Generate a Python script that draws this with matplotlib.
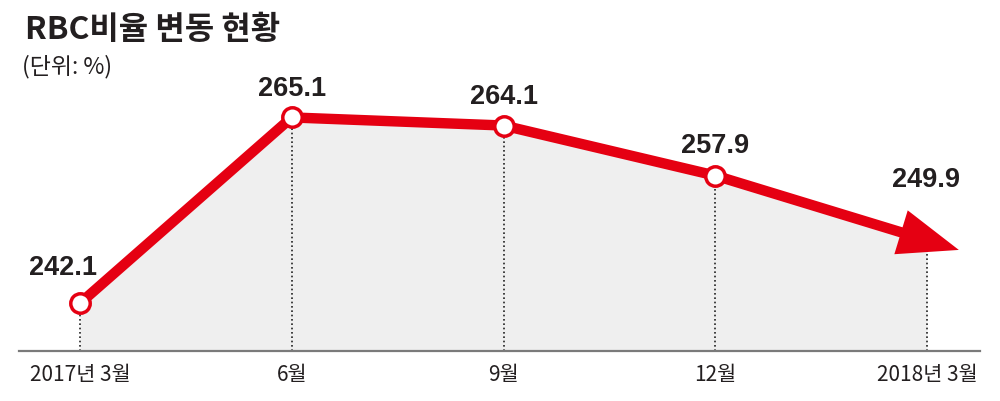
import matplotlib
matplotlib.use('Agg')
import matplotlib.pyplot as plt
import numpy as np

plt.rcParams['font.family'] = ['Noto Sans CJK KR', 'DejaVu Sans']

# data
periods = ['2017년 3월', '6월', '9월', '12월', '2018년 3월']
rbc = [242.1, 265.1, 264.1, 257.9, 249.9]
value_labels = ['242.1', '265.1', '264.1', '257.9', '249.9']

red = '#e50012'
x = np.arange(len(rbc))

fig = plt.figure(figsize=(10, 4.02), dpi=100)
ax = fig.add_axes([0.019, 0.1244, 0.961, 0.7263])
ax.set_xlim(-0.288, 4.25)
ax.set_ylim(236.19, 272.33)

# gray area under line
ax.fill_between(x, rbc, 236.19, color='#efefef', zorder=1, lw=0)

# dotted drop lines
for xi, v in zip(x, rbc):
    ax.plot([xi, xi], [236.19, v], ls=(0, (1, 1.6)), color='#222222', lw=1.2, zorder=2)

# main line (all but last segment)
ax.plot(x[:4], rbc[:4], color=red, lw=7.5, solid_capstyle='round', zorder=3)

# last segment ending as arrow
dy = rbc[4] - rbc[3]
tip = (x[4] + 0.15, rbc[4] + dy * 0.15)
ax.annotate('', xy=tip, xytext=(x[3], rbc[3]),
            arrowprops=dict(arrowstyle='simple,head_length=1.45,head_width=1.1,tail_width=0.25',
                            mutation_scale=30, color=red, lw=0, shrinkA=0, shrinkB=0),
            zorder=3, annotation_clip=False)

# markers
ax.plot(x[:4], rbc[:4], 'o', ms=14, mfc='white', mec=red, mew=2.5, zorder=4)

# value labels
offsets = [(-12, 26), (0, 21), (0, 21), (0, 22), (-1, 44)]
for xi, v, lab, off in zip(x, rbc, value_labels, offsets):
    ax.annotate(lab, (xi, v), xytext=off, textcoords='offset points',
                ha='center', va='center', fontsize=19.5, fontweight='bold',
                family=['Liberation Sans', 'DejaVu Sans'], color='#231f20', zorder=5)

# axes styling
for s in ['top', 'right', 'left']:
    ax.spines[s].set_visible(False)
ax.spines['bottom'].set_color('#7a7a7a')
ax.spines['bottom'].set_linewidth(1.6)
ax.set_yticks([])
ax.set_xticks(x)
ax.set_xticklabels(periods, fontsize=15, color='#231f20')
ax.tick_params(axis='x', length=0, pad=9)

# title
fig.text(0.025, 1 - 30 / 402, 'RBC비율 변동 현황', fontsize=23, fontweight='heavy',
         color='#231f20', va='center', ha='left')
fig.text(0.022, 1 - 67 / 402, '(단위: %)', fontsize=16.5, color='#231f20', va='center', ha='left')

fig.savefig('out.png', dpi=100)
